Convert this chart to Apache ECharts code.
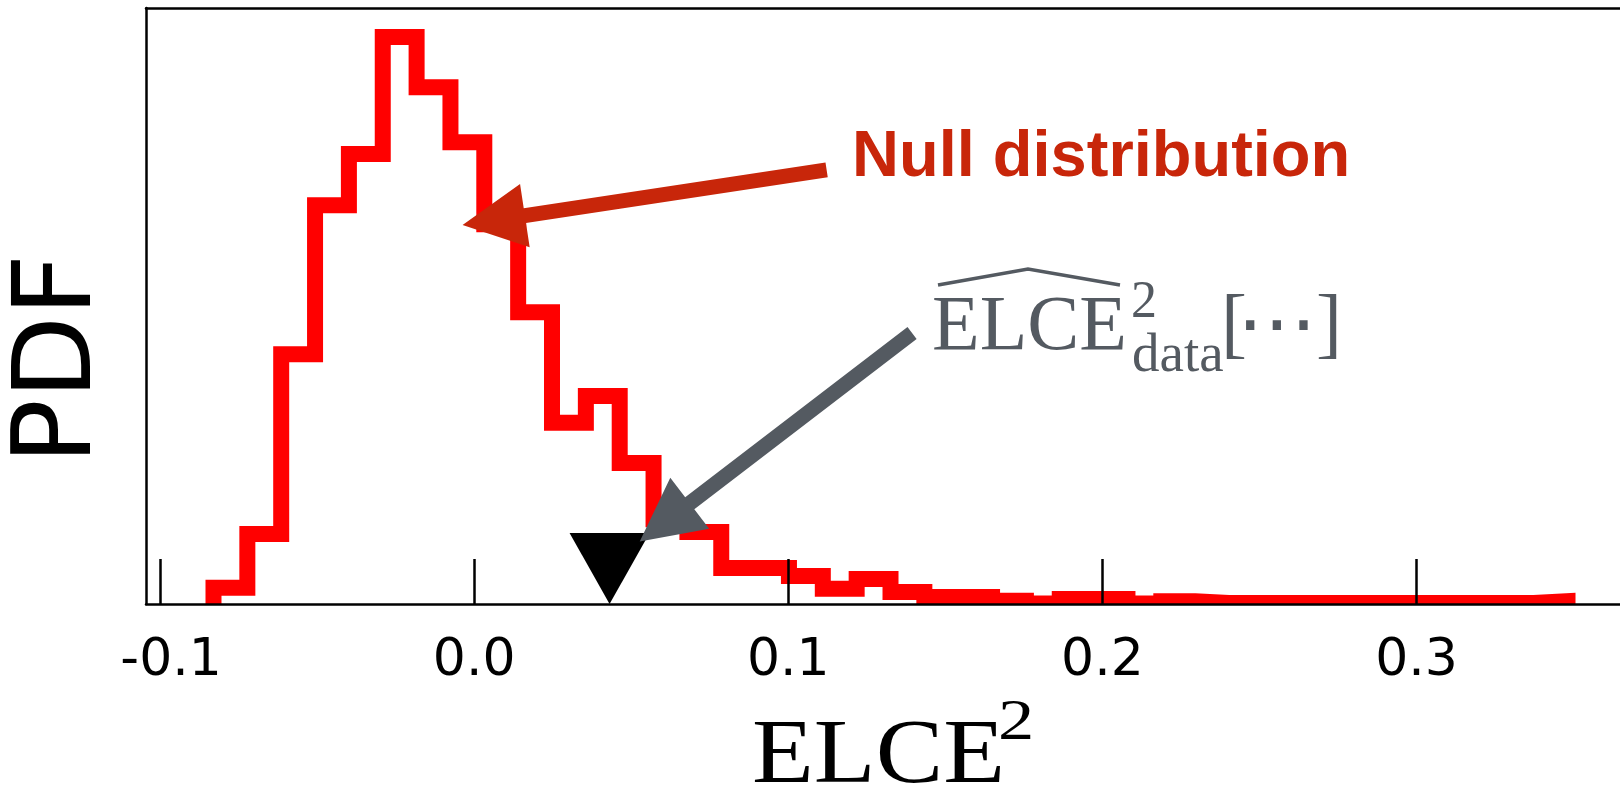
<!DOCTYPE html>
<html>
<head>
<meta charset="utf-8">
<script src="https://cdn.jsdelivr.net/npm/echarts@6/dist/echarts.min.js"></script>
<style>
  html, body { margin: 0; padding: 0; background: #fff; }
  #chart { width: 1620px; height: 793px; }
</style>
</head>
<body>
<div id="chart"></div>
<script>
// ---- data ----
const binStart = -0.0830;
const binWidth = 0.010777;
const pdfValues = [
  0.35, 1.52, 5.42, 8.65, 9.76, 12.30, 11.21, 10.02, 8.24, 6.33,
  3.93, 4.51, 3.06, 1.84, 1.56, 0.78, 0.78, 0.61, 0.33, 0.54,
  0.26, 0.15, 0.15, 0.07, 0.01, 0.11, 0.11, 0.01, 0.06, 0.02,
  0.02, 0.02, 0.02, 0.02, 0.02, 0.02, 0.02, 0.02, 0.02, 0.06
];
const observedValue = 0.0431;
const xTickValues = [-0.1, 0.0, 0.1, 0.2, 0.3];
const xRange = [-0.10449, 0.36479];
const yRange = [0, 12.93];
// annotation arrows: [tail, tip] in data coordinates
const nullArrow = [[0.1122, 9.42], [-0.0037, 8.22]];
const obsArrow = [[0.1394, 5.88], [0.0527, 1.355]];

// ---- build step outline from bins ----
const stepData = [[binStart, 0]];
pdfValues.forEach((v, i) => {
  const e0 = binStart + i * binWidth;
  const e1 = binStart + (i + 1) * binWidth;
  stepData.push([e0, v]);
  stepData.push([e1, v]);
});
stepData.push([binStart + pdfValues.length * binWidth, 0]);

const chart = echarts.init(document.getElementById('chart'), null, { renderer: 'canvas' });

const RED = '#ff0000';
const ARROW_RED = '#c8260a';
const GRAY = '#545a61';
const AXIS_W = 2.5;

chart.setOption({
  animation: false,
  backgroundColor: '#ffffff',
  grid: { left: 146, top: 8, right: 0, bottom: 189 },
  xAxis: [
    {
      type: 'value',
      position: 'bottom',
      min: xRange[0], max: xRange[1],
      z: 5,
      splitLine: { show: false },
      axisLine: { show: true, onZero: false, lineStyle: { color: '#000', width: AXIS_W } },
      axisTick: {
        show: true, inside: true, length: 45, customValues: xTickValues,
        lineStyle: { color: '#000', width: 2.5 }
      },
      axisLabel: {
        show: true, customValues: xTickValues, margin: 31,
        fontFamily: 'DejaVu Sans', fontSize: 52, color: '#000',
        formatter: function (v) {
          const t = (Math.abs(v) < 1e-9 ? 0 : v).toFixed(1);
          return v < -1e-9 ? '{n|' + t + '}' : t;
        },
        rich: {
          n: { fontFamily: 'DejaVu Sans', fontSize: 52, color: '#000', padding: [0, 0, 0, 22] }
        }
      }
    },
    {
      type: 'value',
      position: 'top',
      min: xRange[0], max: xRange[1],
      z: 5,
      splitLine: { show: false },
      axisLine: { show: true, onZero: false, lineStyle: { color: '#000', width: AXIS_W } },
      axisTick: { show: false },
      axisLabel: { show: false }
    }
  ],
  yAxis: {
    type: 'value',
    min: yRange[0], max: yRange[1],
    z: 5,
    axisLine: { show: true, onZero: false, lineStyle: { color: '#000', width: AXIS_W } },
    axisTick: { show: false },
    axisLabel: { show: false },
    splitLine: { show: false }
  },
  series: [
    {
      type: 'line',
      data: stepData,
      symbol: 'none',
      clip: true,
      z: 2,
      lineStyle: { color: RED, width: 16, join: 'miter', cap: 'butt', miterLimit: 10 }
    },
    {
      type: 'scatter',
      data: [[observedValue, 0]],
      symbol: 'path://M0,0L2,0L1,2Z',
      symbolSize: [80, 71],
      symbolOffset: [0, -35.5],
      clip: false,
      z: 3,
      itemStyle: { color: '#000', opacity: 1 }
    }
  ]
});

function arrowPoints(tail, tip, shaftW, headL, headHW) {
  const dx = tip[0] - tail[0], dy = tip[1] - tail[1];
  const len = Math.sqrt(dx * dx + dy * dy);
  const ux = dx / len, uy = dy / len;
  const nx = -uy, ny = ux;
  const bx = tip[0] - ux * headL, by = tip[1] - uy * headL;
  const s = shaftW / 2;
  return [
    [tail[0] + nx * s, tail[1] + ny * s],
    [bx + nx * s, by + ny * s],
    [bx + nx * headHW, by + ny * headHW],
    [tip[0], tip[1]],
    [bx - nx * headHW, by - ny * headHW],
    [bx - nx * s, by - ny * s],
    [tail[0] - nx * s, tail[1] - ny * s]
  ];
}

const px = (p) => chart.convertToPixel({ gridIndex: 0 }, p);

function txt(x, y, text, font, color, extra, scaleX) {
  return {
    type: 'text', x: x, y: y, z: 20, scaleX: scaleX || 1,
    style: Object.assign({
      text: text, x: 0, y: 0, font: font, fill: color,
      align: 'left', textAlign: 'left',
      verticalAlign: 'middle', textVerticalAlign: 'middle'
    }, extra || {})
  };
}

const serif = '"Liberation Serif", "Times New Roman", serif';
const gridRect = chart.getModel().getComponent('grid', 0).coordinateSystem.getRect();
const axisY = gridRect.y + gridRect.height;

const graphics = [
  // hide the part of the step line stroke that falls below the bottom spine
  {
    type: 'rect', z: 4, silent: true,
    shape: { x: gridRect.x + 2, y: axisY + 1, width: gridRect.width, height: 20 },
    style: { fill: '#ffffff' }
  },
  {
    type: 'polygon', z: 15,
    shape: { points: arrowPoints(px(nullArrow[0]), px(nullArrow[1]), 15, 63, 32) },
    style: { fill: ARROW_RED }
  },
  {
    type: 'polygon', z: 15,
    shape: { points: arrowPoints(px(obsArrow[0]), px(obsArrow[1]), 15, 63, 32) },
    style: { fill: GRAY }
  },
  // "Null distribution"
  txt(852, 181 - 0.3465 * 65, 'Null distribution', 'bold 65px "Liberation Sans", Arial, sans-serif', ARROW_RED),
  // hat-ELCE^2_data[...]
  txt(932, 355 - 0.3375 * 78, 'ELCE', '78px ' + serif, GRAY),
  txt(1131, 321 - 0.3375 * 52, '2', '52px ' + serif, GRAY),
  txt(1132, 375 - 0.3375 * 55, 'data', '55px ' + serif, GRAY),
  txt(1221, 355 - 0.3375 * 78, '[', '78px ' + serif, GRAY),
  txt(1277, 357 - 0.346 * 80, '\u22EF', '80px "DejaVu Serif", "DejaVu Sans", serif', GRAY, { align: 'center', textAlign: 'center' }),
  txt(1316, 355 - 0.3375 * 78, ']', '78px ' + serif, GRAY),
  {
    type: 'polyline', z: 20,
    shape: { points: [[938, 285], [1028, 269], [1120, 285]] },
    style: { stroke: GRAY, lineWidth: 3.5, fill: null }
  },
  // x-axis title ELCE^2
  {
    type: 'text', x: 752, y: 789, scaleX: 1.1, z: 20,
    style: {
      text: 'ELCE', x: 0, y: -0.3375 * 92, font: '92px ' + serif, fill: '#000',
      align: 'left', textAlign: 'left', verticalAlign: 'middle', textVerticalAlign: 'middle'
    }
  },
  txt(998, 743 - 0.3375 * 58, '2', '58px ' + serif, '#000', null, 1.25),
  // y-axis title PDF
  {
    type: 'text', x: 62, y: 359, rotation: Math.PI / 2, z: 20,
    style: {
      text: 'PDF', x: 0, y: 0, font: '108px "DejaVu Sans", sans-serif', fill: '#000',
      align: 'center', textAlign: 'center', verticalAlign: 'middle', textVerticalAlign: 'middle'
    }
  }
];

chart.setOption({ graphic: graphics });
</script>
</body>
</html>
